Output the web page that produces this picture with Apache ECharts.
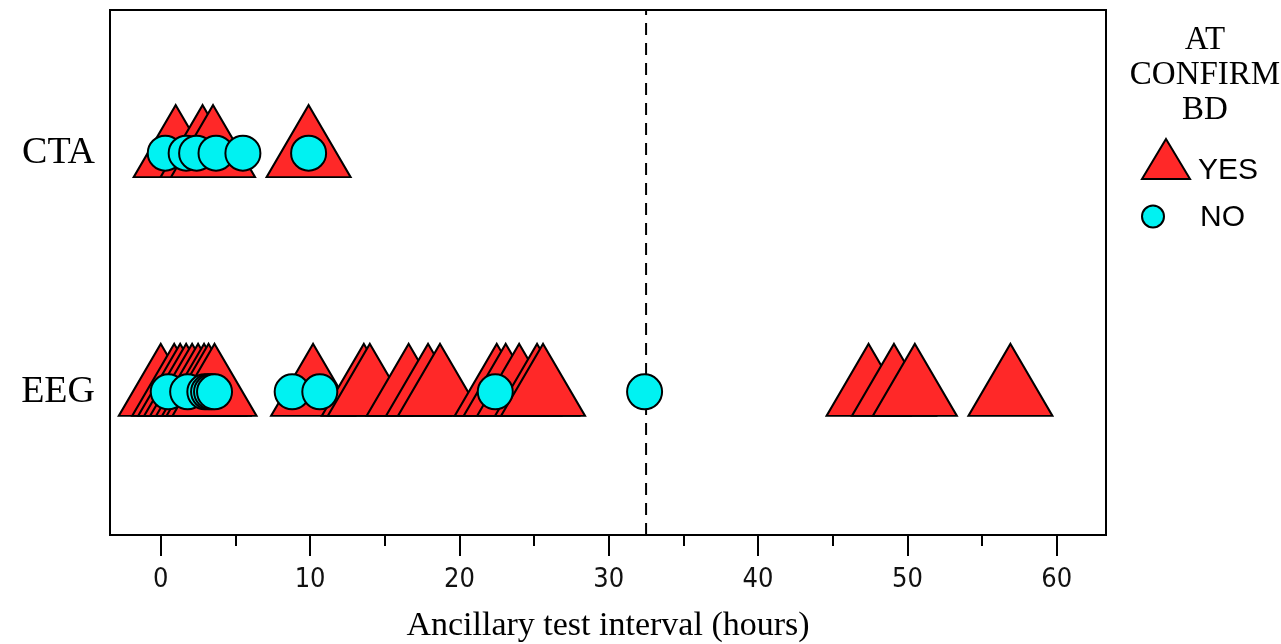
<!DOCTYPE html>
<html>
<head>
<meta charset="utf-8">
<script src="https://cdn.jsdelivr.net/npm/echarts@6/dist/echarts.min.js"></script>
<style>
  html, body { margin: 0; padding: 0; background: #fff; }
  #chart { width: 1281px; height: 644px; }
</style>
</head>
<body>
<div id="chart"></div>
<script>
// test rows: y position on the value axis -> label
var rowNames = { 1: 'EEG', 2: 'CTA' };

// ancillary test interval (hours)
var ctaYes = [1.0, 2.8, 3.5, 9.9];
var ctaNo = [0.3, 1.7, 2.4, 3.7, 5.5, 9.9];
var eegYes = [0.0, 0.9, 1.3, 1.7, 2.1, 2.5, 2.9, 3.2, 3.6, 10.2, 13.6, 14.0, 16.6, 17.9, 18.7,
              22.5, 23.1, 24.0, 25.2, 25.6, 47.4, 49.1, 50.5, 56.9];
var eegNo = [0.5, 1.8, 2.95, 3.2, 3.4, 3.6, 8.8, 10.65, 22.4, 32.4];

var cutoff = 32.5;
var xMajor = [0, 10, 20, 30, 40, 50, 60];
var xMinor = [5, 15, 25, 35, 45, 55];

function rows(cta, eeg){
	var out = [];
	cta.forEach(function(v){ out.push([v, 2]); });
	eeg.forEach(function(v){ out.push([v, 1]); });
	return out;
}

var chart = echarts.init(document.getElementById('chart'));
var serif = 'Liberation Serif';
var sans = 'Liberation Sans';
var xMin = -3.4, xMax = 63.3, yMin = 0.4, yMax = 2.6;

var option = {
	animation: false,
	title: {
		text: 'AT\nCONFIRM\nBD',
		left: 1200,
		top: 18,
		textAlign: 'center',
		textStyle: {
			fontFamily: serif,
			fontSize: 33,
			lineHeight: 35,
			fontWeight: 'normal',
			color: '#000'
		}
	},
	legend: [
		{
			data: [{ name: 'YES', icon: 'triangle' }],
			left: 1136,
			top: 133,
			itemWidth: 48,
			itemHeight: 40,
			formatter: '{t|{name}}',
			textStyle: {
				rich: { t: { fontFamily: sans, fontSize: 30, color: '#000', padding: [24, 0, 0, 3] } }
			}
		},
		{
			data: [{ name: 'NO', icon: 'circle' }],
			left: 1136,
			top: 198,
			itemWidth: 48,
			itemHeight: 22,
			formatter: '{t|{name}}',
			textStyle: {
				rich: { t: { fontFamily: sans, fontSize: 30, color: '#000', padding: [3, 0, 0, 18] } }
			}
		}
	],
	grid: {
		left: 110,
		right: 175,
		top: 10,
		bottom: 109,
		outerBoundsMode: 'none',
		containLabel: false,
		show: true,
		borderColor: '#000',
		borderWidth: 2,
		backgroundColor: 'transparent'
	},
	xAxis: [
		{
			type: 'value',
			min: xMin,
			max: xMax,
			name: 'Ancillary test interval (hours)',
			nameLocation: 'middle',
			nameGap: 74,
			nameTextStyle: { fontFamily: serif, fontSize: 34, color: '#000' },
			splitLine: { show: false },
			axisLine: { show: false },
			axisTick: { show: true, customValues: xMajor, length: 21, lineStyle: { color: '#000', width: 2 } },
			axisLabel: {
				customValues: xMajor,
				margin: 31,
				fontFamily: 'DejaVu Sans Condensed',
				fontSize: 27,
				color: '#111'
			}
		},
		{
			type: 'value',
			min: xMin,
			max: xMax,
			position: 'bottom',
			splitLine: { show: false },
			axisLine: { show: false },
			axisTick: { show: true, customValues: xMinor, length: 11, lineStyle: { color: '#000', width: 2 } },
			axisLabel: { show: false }
		}
	],
	yAxis: {
		type: 'value',
		min: yMin,
		max: yMax,
		splitLine: { show: false },
		axisLine: { show: false },
		axisTick: { show: true, customValues: [1, 2], length: 12, lineStyle: { color: '#000', width: 2 } },
		axisLabel: {
			customValues: [1, 2],
			margin: 15,
			padding: [16, 0, 0, 0],
			fontFamily: serif,
			fontSize: 38,
			color: '#000',
			formatter: function(v){ return rowNames[v] || ''; }
		}
	},
	series: [
		{
			name: 'cutoff',
			type: 'line',
			z: 1,
			silent: true,
			symbol: 'none',
			data: [[cutoff, yMin], [cutoff, yMax]],
			lineStyle: { color: '#000', width: 2, type: [12, 8] }
		},
		{
			name: 'YES',
			type: 'scatter',
			z: 2,
			symbol: 'triangle',
			symbolSize: [84, 72],
			symbolOffset: [0, -12],
			itemStyle: { color: '#ff2828', borderColor: '#000', borderWidth: 2, opacity: 1 },
			data: rows(ctaYes, eegYes)
		},
		{
			name: 'NO',
			type: 'scatter',
			z: 3,
			symbol: 'circle',
			symbolSize: 35,
			itemStyle: { color: '#00f2f2', borderColor: '#000', borderWidth: 2, opacity: 1 },
			data: rows(ctaNo, eegNo)
		}
	]
};
chart.setOption(option);
</script>
</body>
</html>
